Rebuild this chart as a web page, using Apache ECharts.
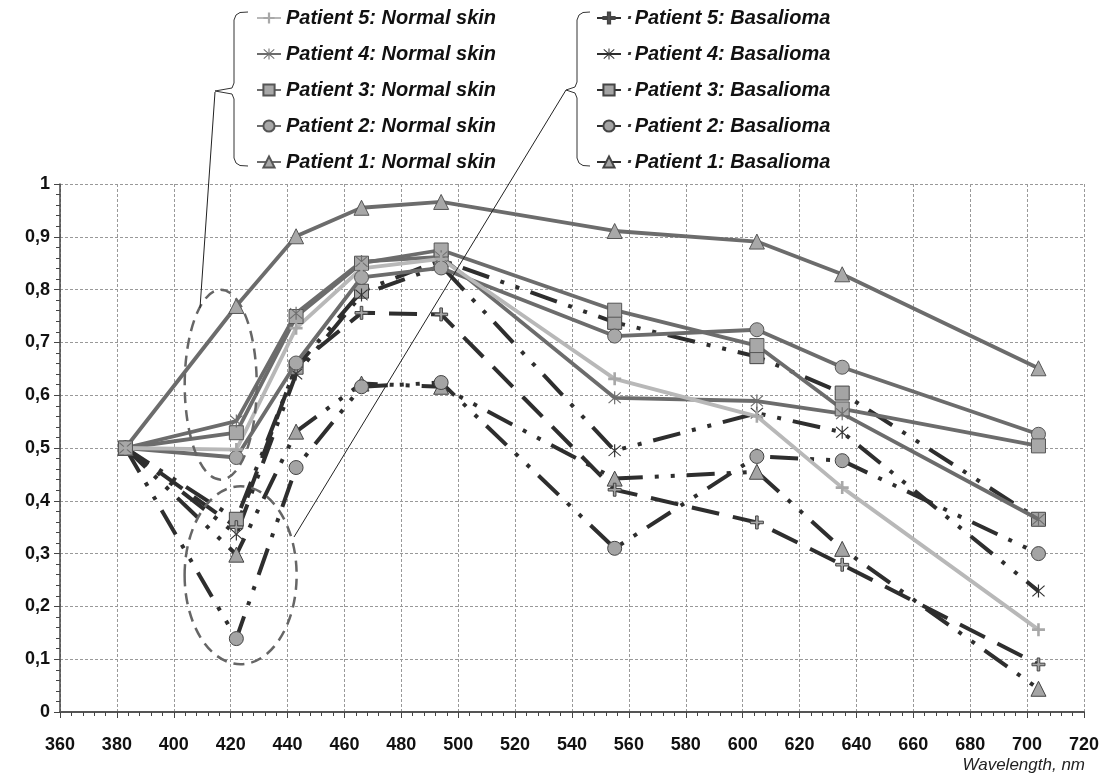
<!DOCTYPE html>
<html>
<head>
<meta charset="utf-8">
<script src="https://cdn.jsdelivr.net/npm/echarts@6/dist/echarts.min.js"></script>
<style>
html,body{margin:0;padding:0;background:#fff;}
#main{width:1102px;height:782px;}
</style>
</head>
<body>
<div id="main"></div>
<script>
// ---- data ----
const wavelengths = [383, 422, 443, 466, 494, 555, 605, 635, 704];

const normal1 = [0.5, 0.769, 0.901, 0.955, 0.966, 0.911, 0.891, 0.829, 0.651];
const normal2 = [0.5, 0.482, 0.661, 0.823, 0.841, 0.712, 0.724, 0.653, 0.526];
const normal3 = [0.5, 0.529, 0.749, 0.850, 0.875, 0.761, 0.694, 0.574, 0.504];
const normal4 = [0.5, 0.551, 0.755, 0.853, 0.862, 0.595, 0.589, 0.565, 0.365];
const normal5 = [0.5, 0.497, 0.727, 0.840, 0.858, 0.631, 0.560, 0.425, 0.156];

const basal1 = [0.5, 0.298, 0.531, 0.622, 0.616, 0.442, 0.455, 0.309, 0.044];
const basal2 = [0.5, 0.139, 0.463, 0.616, 0.624, 0.310, 0.484, 0.476, 0.300];
const basal3 = [0.5, 0.365, 0.653, 0.797, 0.856, 0.738, 0.673, 0.604, 0.365];
const basal4 = [0.5, 0.337, 0.640, 0.790, 0.845, 0.495, 0.566, 0.530, 0.229];
const basal5 = [0.5, 0.350, 0.655, 0.756, 0.753, 0.421, 0.359, 0.279, 0.090];

const normalNames = ['Patient 1: Normal skin','Patient 2: Normal skin','Patient 3: Normal skin','Patient 4: Normal skin','Patient 5: Normal skin'];
const basalNames = ['Patient 1: Basalioma','Patient 2: Basalioma','Patient 3: Basalioma','Patient 4: Basalioma','Patient 5: Basalioma'];
const xTicks = [360, 380, 400, 420, 440, 460, 480, 500, 520, 540, 560, 580, 600, 620, 640, 660, 680, 700, 720];
const yTicks = [0, 0.1, 0.2, 0.3, 0.4, 0.5, 0.6, 0.7, 0.8, 0.9, 1];
const xTitle = 'Wavelength, nm';

// ---- styles ----
const PLUS = 'path://M4,0 H6 V4 H10 V6 H6 V10 H4 V6 H0 V4 H4 Z';
const STAR = 'path://M9.2,0 H10.8 V20 H9.2 Z M1.2,2.3 L2.3,1.2 L18.8,17.7 L17.7,18.8 Z M17.7,1.2 L18.8,2.3 L2.3,18.8 L1.2,17.7 Z';
const symbols = ['triangle', 'circle', 'rect', STAR, PLUS];
const symSizes = [15, 14, 14, 13, 13];
const normalData = [normal1, normal2, normal3, normal4, normal5];
const basalData = [basal1, basal2, basal3, basal4, basal5];

function pairs(arr){ return wavelengths.map((w,i)=>[w, arr[i]]); }

const series = [];
const dashDotDot = [28, 12, 4, 12, 4, 12];
const dashPatterns = [dashDotDot, dashDotDot, dashDotDot, dashDotDot, [28, 14]];
for (let i = 0; i < 5; i++) {
  const isStar = i === 3;
  series.push({
    name: basalNames[i], type: 'line', data: pairs(basalData[i]),
    symbol: symbols[i], symbolSize: symSizes[i],
    lineStyle: {color: '#2e2e2e', width: 4, type: dashPatterns[i]},
    itemStyle: isStar ? {color: '#333', borderWidth: 0} : {color: '#a4a4a4', borderColor: '#444', borderWidth: 1},
    z: 2, animation: false
  });
}
for (let i = 0; i < 5; i++) {
  const light = i === 4;
  const isStar = i === 3, isPlus = i === 4;
  series.push({
    name: normalNames[i], type: 'line', data: pairs(normalData[i]),
    symbol: symbols[i], symbolSize: symSizes[i],
    lineStyle: {color: light ? '#b8b8b8' : '#6c6c6c', width: 3.8, type: 'solid'},
    itemStyle: isPlus ? {color: '#a8a8a8', borderWidth: 0} : isStar ? {color: '#6e6e6e', borderWidth: 0} : {color: '#a8a8a8', borderColor: '#555', borderWidth: 1},
    z: 3, animation: false
  });
}

const legendText = {fontFamily: 'Liberation Sans, Arial', fontWeight: 'bold', fontStyle: 'italic', fontSize: 20, color: '#111', lineHeight: 20};
const labelFont = {fontFamily: 'Liberation Sans, Arial', fontWeight: 'bold', fontSize: 18, color: '#111'};

const chart = echarts.init(document.getElementById('main'), null, {renderer: 'canvas'});
const option = {
  backgroundColor: '#fff',
  animation: false,
  grid: {left: 60, right: 16, top: 184, bottom: 70},
  legend: [
    {data: normalNames.slice().reverse(), orient: 'vertical', left: 256, top: 8, padding: 0, itemWidth: 24, itemHeight: 14, itemGap: 16, textStyle: legendText, selectedMode: false},
    {data: basalNames.slice().reverse(), orient: 'vertical', left: 596, top: 8, padding: 0, itemWidth: 24, itemHeight: 14, itemGap: 16, selectedMode: false,
     textStyle: Object.assign({}, legendText, {rich: {d: {fontSize: 20, fontWeight: 'bold', color: '#333', padding: [0, 2, 0, 0]}}}),
     formatter: name => '{d|·}' + name}
  ],
  xAxis: {
    type: 'value', min: xTicks[0], max: xTicks[xTicks.length-1], interval: 20,
    axisLine: {lineStyle: {color: '#555', width: 2}},
    axisTick: {length: 6, lineStyle: {color: '#444'}},
    minorTick: {show: true, splitNumber: 5, length: 4, lineStyle: {color: '#444'}},
    axisLabel: Object.assign({margin: 24}, labelFont),
    splitLine: {show: true, lineStyle: {color: '#999', type: [3,2], width: 1}}
  },
  yAxis: {
    type: 'value', min: yTicks[0], max: yTicks[yTicks.length-1], interval: 0.1,
    axisLine: {show: true, lineStyle: {color: '#444', width: 1.5}},
    axisTick: {show: true, length: 6, lineStyle: {color: '#444'}},
    minorTick: {show: true, splitNumber: 5, length: 4, lineStyle: {color: '#444'}},
    axisLabel: Object.assign({margin: 10, formatter: v => (Math.round(v*10)/10).toString().replace('.', ',')}, labelFont),
    splitLine: {show: true, lineStyle: {color: '#999', type: [3,2], width: 1}}
  },
  series: series
};
chart.setOption(option);

// ---- annotations (ellipses, braces, leader lines, axis title) ----
const c1 = chart.convertToPixel({gridIndex: 0}, [416.5, 0.62]);
const c2 = chart.convertToPixel({gridIndex: 0}, [423.5, 0.259]);
function brace(x, tip, top, bottom, mid, hook){
  return [[x+hook, top],[x+6, top+0.5],[x+2, top+3],[x, top+8],[x, mid-8],[x-2, mid-3],[tip, mid],[x-2, mid+3],[x, mid+8],[x, bottom-8],[x+2, bottom-3],[x+6, bottom-0.5],[x+hook, bottom]];
}
chart.setOption({
  graphic: [
    {type: 'ellipse', shape: {cx: c1[0], cy: c1[1], rx: 36, ry: 95}, style: {fill: 'none', stroke: '#666', lineWidth: 2.5, lineDash: [11, 7]}, z: 10},
    {type: 'ellipse', shape: {cx: c2[0], cy: c2[1], rx: 56, ry: 89}, style: {fill: 'none', stroke: '#666', lineWidth: 2.5, lineDash: [11, 7]}, z: 10},
    {type: 'polyline', shape: {points: brace(234, 215, 12, 166, 91, 14)}, style: {fill: null, stroke: '#333', lineWidth: 1}, z: 10},
    {type: 'polyline', shape: {points: brace(577, 566, 12, 166, 90, 13)}, style: {fill: null, stroke: '#333', lineWidth: 1}, z: 10},
    {type: 'line', shape: {x1: 215, y1: 92, x2: 200, y2: 308}, style: {stroke: '#222', lineWidth: 1}, z: 10},
    {type: 'line', shape: {x1: 566, y1: 90, x2: 294, y2: 537}, style: {stroke: '#222', lineWidth: 1}, z: 10},
    {type: 'text', x: 1085, y: 757, style: {text: xTitle, font: 'italic 17px "Liberation Sans", Arial', fill: '#222', textAlign: 'right'}, z: 10}
  ]
});
</script>
</body>
</html>
